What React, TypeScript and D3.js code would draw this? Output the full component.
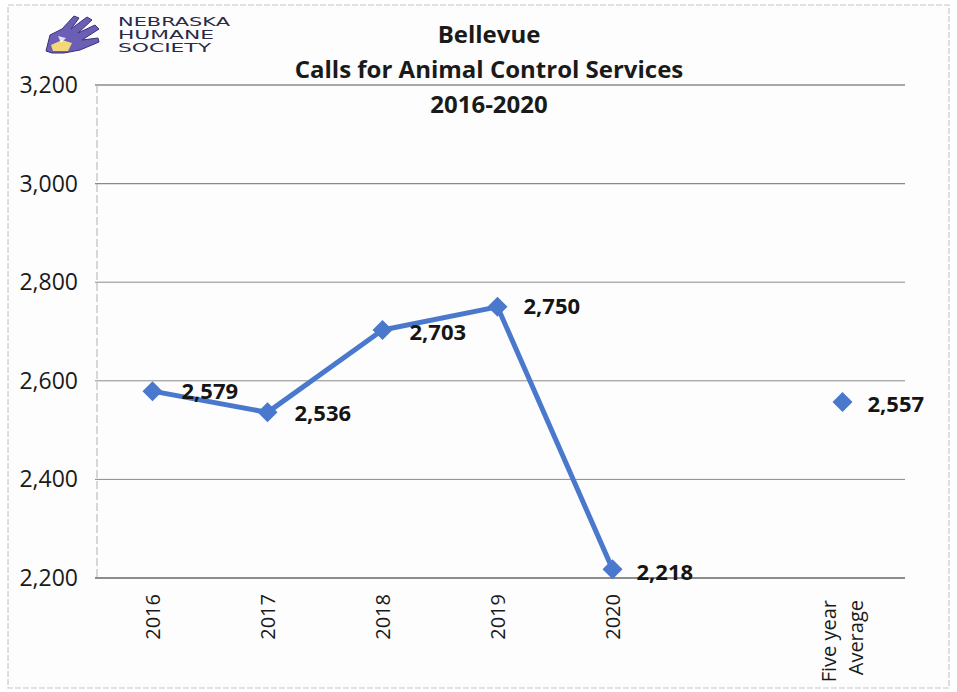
import React from "react";
import * as d3 from "d3";

const categories = ["2016", "2017", "2018", "2019", "2020", "", "Five year Average"];
const lineYears = ["2016", "2017", "2018", "2019", "2020"];
const lineValues = [2579, 2536, 2703, 2750, 2218];
const averageCategory = "Five year Average";
const averageValue = 2557;
const yTicks = [2200, 2400, 2600, 2800, 3000, 3200];
const titleLines = ["Bellevue", "Calls for Animal Control Services", "2016-2020"];
const logoLines = ["NEBRASKA", "HUMANE", "SOCIETY"];

const W = 957, H = 692;
const M = { left: 95, right: 900, top: 85, bottom: 578 };
const BLUE = "#4a78cc";
const FONT = "'Open Sans', Lato, sans-serif";

export default function App() {
  const x = d3.scaleBand().domain(categories).range([M.left, M.right]);
  const y = d3.scaleLinear().domain([2200, 3200]).range([M.bottom, M.top]);
  const cx = (c: string) => (x(c) as number) + x.bandwidth() / 2;
  const pts = lineYears.map((c, i) => [cx(c), y(lineValues[i])] as [number, number]);
  const line = d3.line()(pts) as string;
  const diamond = "M0,-10L10,0L0,10L-10,0Z";
  const fmt = d3.format(",");
  const labelOffsets = [
    [29, 8], [27, 9], [27, 10], [26, 7], [24, 11],
  ];
  const logoLen = [112, 96, 93];

  return (
    <svg width={W} height={H} style={{ position: "absolute", left: 0, top: 0 }} fontFamily={FONT}>
      <rect x={0} y={0} width={W} height={H} fill="#ffffff" />
      <rect x={8} y={5} width={941} height={683} fill="#fdfdfd" stroke="#c8c8c8" strokeWidth={1.2} strokeDasharray="6 2" />
      {/* logo */}
      <g transform="translate(44,13)">
        <path d="M2,38 L6,22 L18,16 L30,3 L35,5 L27,16 L43,4 L48,7 L34,20 L51,12 L55,16 L38,27 L54,25 L55,29 L36,37 L20,40 L8,40 Z" fill="#6b5fb5" stroke="#3b2f7a" strokeWidth={1} />
        <path d="M7,32 L18,27 L28,30 L24,38 L9,38 Z" fill="#f3d77a" />
        <path d="M14,23 L22,25 L17,30 Z" fill="#ffffff" opacity={0.8} />
      </g>
      {logoLines.map((t, i) => (
        <text key={t} x={118} y={26 + i * 13} fontSize={12} fill="#2a2a48" fontFamily="'DejaVu Sans', sans-serif" textLength={logoLen[i]} lengthAdjust="spacingAndGlyphs">{t}</text>
      ))}
      {/* title */}
      {titleLines.map((t, i) => (
        <text key={t} x={489} y={43 + i * 35} textAnchor="middle" fontSize={24} fontWeight={700} fill="#1a1a1a">{t}</text>
      ))}
      {/* grid */}
      {yTicks.map((v) => (
        <g key={v}>
          <line x1={M.left} x2={905} y1={y(v)} y2={y(v)} stroke={v === 2200 ? "#666" : "#8a8a8a"} strokeWidth={v === 2200 || v === 3200 || v === 3000 ? 1.3 : 1} />
          <text x={78} y={y(v) + 8} textAnchor="end" fontSize={23} fill="#1a1a1a">{fmt(v)}</text>
        </g>
      ))}
      <line x1={97} x2={97} y1={M.top} y2={M.bottom} stroke="#b0b0b0" strokeWidth={1} strokeDasharray="8 3" />
      {/* x labels */}
      {categories.filter((c) => c !== "").map((c) => {
        const lines = c === averageCategory ? ["Five year", "Average"] : [c];
        return lines.map((t, j) => (
          <text key={c + j} transform={`translate(${cx(c) + 7 - (lines.length - 1) * 14 + j * 27},${lines.length > 1 ? 600 : 594}) rotate(-90)`} textAnchor="end" fontSize={20} fill="#1a1a1a">{t}</text>
        ));
      })}
      {/* line */}
      <path d={line} fill="none" stroke={BLUE} strokeWidth={5} strokeLinejoin="round" />
      {pts.map((p, i) => (
        <path key={i} d={diamond} transform={`translate(${p[0]},${p[1]})`} fill={BLUE} />
      ))}
      <path d={diamond} transform={`translate(${cx(averageCategory)},${y(averageValue)})`} fill={BLUE} />
      {pts.map((p, i) => (
        <text key={i} x={p[0] + labelOffsets[i][0]} y={p[1] + labelOffsets[i][1]} fontSize={22} fontWeight={700} fill="#151515">{fmt(lineValues[i])}</text>
      ))}
      <text x={cx(averageCategory) + 25} y={y(averageValue) + 10} fontSize={22} fontWeight={700} fill="#151515">{fmt(averageValue)}</text>
    </svg>
  );
}
